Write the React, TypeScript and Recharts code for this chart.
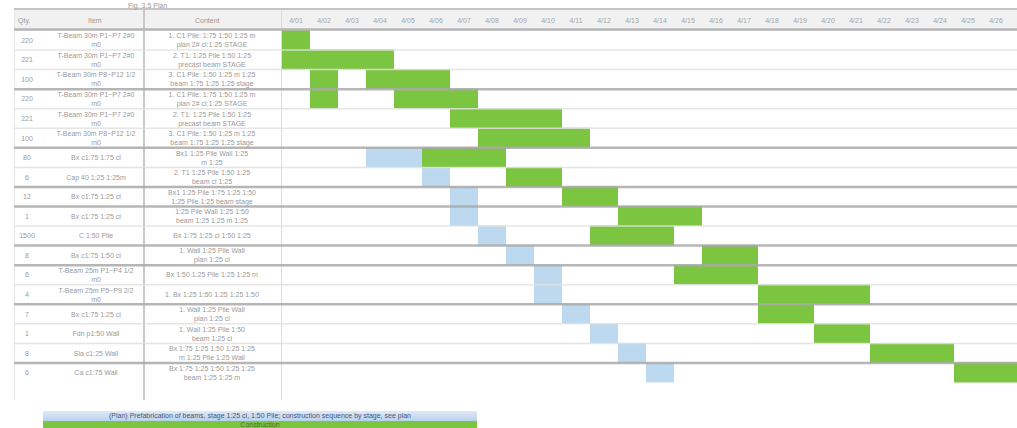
import React from "react";
import { BarChart, Bar, XAxis, YAxis, Legend, Cell } from "recharts";

const W = 1017;
const H = 428;
const TOP = 30;
const BOTTOM = 28;

// left table columns
const qty = ['220', '221', '100', '220', '221', '100', '80', '6', '12', '1', '1500', '8', '6', '4', '7', '1', '8', '6'];
const items = [
  'T-Beam 30m P1~P7 2#0\nm0', 'T-Beam 30m P1~P7 2#0\nm0', 'T-Beam 30m P8~P12 1/2\nm0',
  'T-Beam 30m P1~P7 2#0\nm0', 'T-Beam 30m P1~P7 2#0\nm0', 'T-Beam 30m P8~P12 1/2\nm0',
  'Bx  c1:75  1:75  cl', 'Cap 40  1:25  1:25m', 'Bx  c1:75  1:25  cl', 'Bx  c1:75  1:25  cl',
  'C 1:50 Pile', 'Bx  c1:75  1:50  cl', 'T-Beam 25m P1~P4 1/2\nm0', 'T-Beam 25m P5~P9 2/2\nm0',
  'Bx  c1:75  1:25  cl', 'Fdn  p1:50  Wall', 'Sla  c1:25  Wall', 'Ca  c1:75  Wall',
];
const notes = [
  '1. C1 Pile: 1:75 1:50 1:25 m\nplan 2# cl:1:25 STAGE', '2. T1: 1:25 Pile 1:50 1:25\nprecast beam  STAGE', '3. C1 Pile: 1:50 1:25 m 1:25\nbeam 1:75 1:25 1:25 stage',
  '1. C1 Pile: 1:75 1:50 1:25 m\nplan 2# cl:1:25 STAGE', '2. T1: 1:25 Pile 1:50 1:25\nprecast beam  STAGE', '3. C1 Pile: 1:50 1:25 m 1:25\nbeam 1:75 1:25 1:25 stage',
  'Bx1 1:25 Pile  Wall 1:25\nm 1:25', '2. T1 1:25 Pile 1:50 1:25\nbeam cl 1:25', 'Bx1 1:25 Pile 1:75 1:25 1:50\n1:25 Pile 1:25 beam stage',
  '1:25 Pile  Wall 1:25 1:50\nbeam 1:25  1:25 m 1:25', 'Bx 1:75 1:25 cl 1:50 1:25', '1. Wall 1:25 Pile  Wall\nplan 1:25  cl',
  'Bx 1:50 1:25 Pile 1:25 1:25 m', '1. Bx 1:25 1:50 1:25 1:25 1:50', '1. Wall 1:25 Pile  Wall\nplan 1:25  cl',
  '1. Wall 1:25 Pile 1:50\nbeam 1:25 cl', 'Bx 1:75 1:25 1:50 1:25 1:25\nm 1:25  Pile 1:25  Wall', 'Bx 1:75 1:25 1:50 1:25 1:25\nbeam 1:25  1:25 m',
];

// schedule (column units)
const prepStart = [null, null, null, null, null, null, 3, 5, 6, 6, 7, 8, 9, 9, 10, 11, 12, 13];
const prepDays = [0, 0, 0, 0, 0, 0, 2, 1, 1, 1, 1, 1, 1, 1, 1, 1, 1, 1];
const earlyStart = [null, null, 1, 1, null, null, null, null, null, null, null, null, null, null, null, null, null, null];
const earlyDays = [0, 0, 1, 1, 0, 0, 0, 0, 0, 0, 0, 0, 0, 0, 0, 0, 0, 0];
const workStart = [0, 0, 3, 4, 6, 7, 5, 8, 10, 12, 11, 15, 14, 17, 17, 19, 21, 24];
const workDays = [1, 4, 3, 3, 4, 4, 3, 2, 2, 3, 3, 2, 3, 4, 2, 2, 3, 3];

const dayLabels = ['4/01', '4/02', '4/03', '4/04', '4/05', '4/06', '4/07', '4/08', '4/09', '4/10', '4/11', '4/12', '4/13',
  '4/14', '4/15', '4/16', '4/17', '4/18', '4/19', '4/20', '4/21', '4/22', '4/23', '4/24', '4/25', '4/26'];

const groupEnds = [2, 5, 7, 8, 10, 11, 13, 16];

const GREEN = '#7cc540';
const BLUE = '#bdd9f0';

const rows = qty.map((q, i) => {
  let lead = workStart[i];
  let early = 0;
  let prep = 0;
  let gap = 0;
  if (earlyStart[i] != null) {
    lead = earlyStart[i] as number;
    early = earlyDays[i];
    gap = workStart[i] - lead - early;
  } else if (prepStart[i] != null) {
    lead = prepStart[i] as number;
    prep = prepDays[i];
    gap = workStart[i] - lead - prep;
  }
  return { row: i, lead, early, prep, gap, work: workDays[i] };
});

const band = (H - TOP - BOTTOM) / qty.length;
const txt = { fontFamily: 'Liberation Sans, Arial, sans-serif', fontSize: 7, fill: '#9a9a9a' };

const Lines = ({ s, x, y }: { s: string; x: number; y: number }) => {
  const parts = s.split('\n');
  const y0 = y - (parts.length - 1) * 4.5;
  return (
    <text x={x} y={y0} textAnchor="middle" dominantBaseline="central" {...txt}>
      {parts.map((p, k) => (
        <tspan key={k} x={x} y={y0 + k * 9}>{p}</tspan>
      ))}
    </text>
  );
};

const RowTick = (props: any) => {
  const { y, payload } = props;
  const i = Number(payload.value);
  const bottom = y + band / 2;
  const thick = groupEnds.includes(i);
  return (
    <g>
      {i === 0 && <line x1={14} x2={W} y1={y - band / 2} y2={y - band / 2} stroke="#b5b5b5" strokeWidth={2.5} />}
      <Lines s={qty[i]} x={27} y={y} />
      <Lines s={items[i]} x={96} y={y} />
      <Lines s={notes[i]} x={212} y={y} />
      {i < qty.length - 1 && (
        <line x1={14} x2={W} y1={bottom} y2={bottom} stroke={thick ? '#a9a9a9' : '#e0e0e0'} strokeWidth={thick ? 2.5 : 1.5} strokeOpacity={0.85} />
      )}
    </g>
  );
};

const DayTick = (props: any) => {
  const { x, payload } = props;
  const i = Math.floor(payload.value);
  return (
    <text x={x} y={23} textAnchor="middle" {...txt} fill="#a5a5a5">{dayLabels[i]}</text>
  );
};

const ScheduleLegend = () => (
  <div style={{ width: 434, fontFamily: 'Liberation Sans, Arial, sans-serif', fontSize: 7, lineHeight: '10px' }}>
    <div style={{ height: 10, background: 'linear-gradient(#dfeaf6, #b7d2ec)', color: '#4a5675', textAlign: 'center' }}>
      (Plan) Prefabrication of beams, stage 1:25 cl, 1:50 Pile; construction sequence by stage, see plan
    </div>
    <div style={{ height: 8, background: GREEN, color: '#4d6b2e', textAlign: 'center', lineHeight: '8px' }}>
      Construction
    </div>
  </div>
);

export default function App() {
  const ticks = dayLabels.map((_, i) => i + 0.5);
  return (
    <div style={{ position: 'absolute', left: 0, top: 0, width: W, height: H, background: '#fff' }}>
      <div style={{ position: 'absolute', left: 14, top: 8, width: W - 14, height: 20, background: '#f1f1f1', borderTop: '2px solid #c4c4c4' }} />
      <div style={{ position: 'absolute', left: 14, top: 10, height: 390, width: 0, borderLeft: '1px solid #e6e6e6' }} />
      <div style={{ position: 'absolute', left: 143, top: 10, height: 390, width: 0, borderLeft: '2px solid #c8c8c8' }} />
      <div style={{ position: 'absolute', left: 281, top: 10, height: 390, width: 0, borderLeft: '1px solid #dcdcdc' }} />
      <div style={{ position: 'absolute', left: 128, top: 2, fontFamily: 'Liberation Sans, Arial, sans-serif', fontSize: 7, color: '#999' }}>Fig. 3.5 Plan</div>
      <div style={{ position: 'absolute', left: 18, top: 17, fontFamily: 'Liberation Sans, Arial, sans-serif', fontSize: 7, color: '#999' }}>Qty.</div>
      <div style={{ position: 'absolute', left: 88, top: 17, fontFamily: 'Liberation Sans, Arial, sans-serif', fontSize: 7, color: '#999' }}>Item</div>
      <div style={{ position: 'absolute', left: 195, top: 17, fontFamily: 'Liberation Sans, Arial, sans-serif', fontSize: 7, color: '#999' }}>Content</div>
      <div style={{ position: 'absolute', left: 0, top: 0 }}>
        <BarChart
          width={W}
          height={H}
          data={rows}
          layout="vertical"
          barCategoryGap={0}
          margin={{ top: TOP - 12, right: 0, bottom: BOTTOM, left: 0 }}
        >
          <XAxis
            type="number"
            orientation="top"
            domain={[0, 26.25]}
            allowDataOverflow
            ticks={ticks}
            interval={0}
            height={12}
            axisLine={false}
            tickLine={false}
            tick={<DayTick />}
          />
          <Bar dataKey="lead" stackId="s" fill="transparent" isAnimationActive={false} />
          <Bar dataKey="early" stackId="s" fill={GREEN} isAnimationActive={false} />
          <Bar dataKey="prep" stackId="s" fill={BLUE} isAnimationActive={false} />
          <Bar dataKey="gap" stackId="s" fill="transparent" isAnimationActive={false} />
          <Bar dataKey="work" stackId="s" fill={GREEN} isAnimationActive={false}>
            {rows.map((r) => (
              <Cell key={`w-${r.row}`} fill={GREEN} />
            ))}
          </Bar>
          <YAxis
            type="category"
            dataKey="row"
            width={282}
            interval={0}
            axisLine={false}
            tickLine={false}
            tick={<RowTick />}
            {...({ zIndex: 900 } as any)}
          />
          <Legend
            content={<ScheduleLegend />}
            wrapperStyle={{ position: 'absolute', left: 43, top: 411, width: 434, height: 18 }}
          />
        </BarChart>
      </div>
    </div>
  );
}
